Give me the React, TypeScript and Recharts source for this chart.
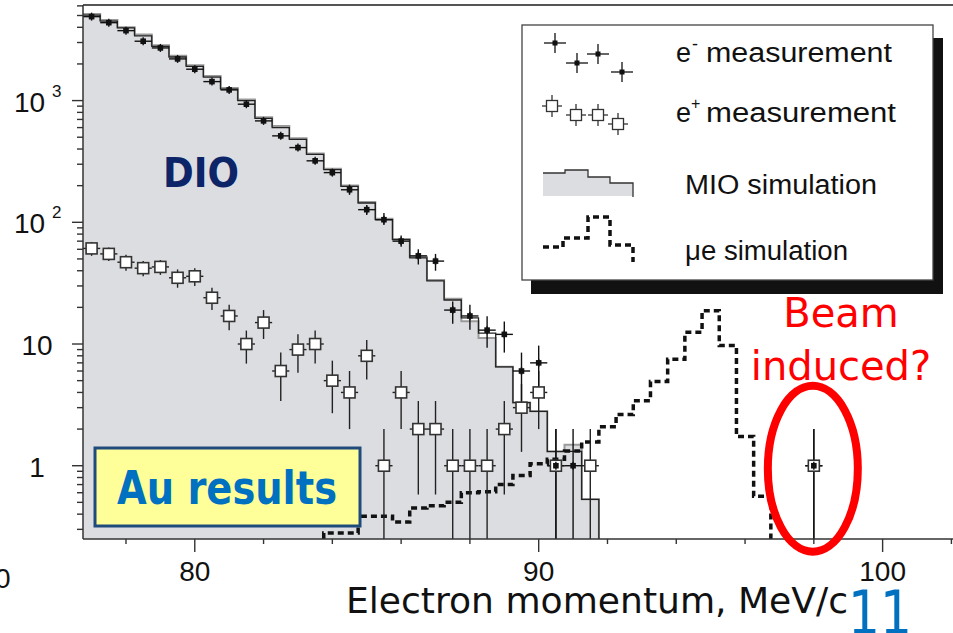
import React from "react";
import {
  ComposedChart,
  Area,
  Line,
  Scatter,
  XAxis,
  YAxis,
  ErrorBar,
  ReferenceDot,
  ReferenceLine,
} from "recharts";

// momentum bins are 0.5 MeV/c wide
const HALF_BIN = 0.25;
const Y_FLOOR = 0.25;
const Y_TOP = 6100;

const binCenters = [
  77, 77.5, 78, 78.5, 79, 79.5, 80, 80.5, 81, 81.5, 82, 82.5, 83, 83.5, 84,
  84.5, 85, 85.5, 86, 86.5, 87, 87.5, 88, 88.5, 89, 89.5, 90, 90.5, 91, 91.5,
];
// MIO simulation (filled histogram)
const mioSim = [
  5150, 4600, 4000, 3490, 2850, 2330, 1950, 1590, 1270, 1020, 730, 618, 490,
  368, 276, 201, 147, 107, 73, 52, 33.5, 23.5, 15.4, 11.2, 6.5, 3.3, 2.8, 1.3,
  1.49, 0.53,
];
// dark outline histogram drawn over the fill
const mioOutline = [
  5040, 4500, 3960, 3400, 2790, 2280, 1910, 1560, 1240, 1000, 715, 600, 480,
  361, 271, 197, 144, 105, 72, 51, 33, 23, 16.4, 12.3, 6.5, 3.3, 2.8, 1.31,
  1.31, 0.53,
];

// mu -> e conversion simulation
const mueCenters = [
  84, 84.5, 85, 85.5, 86, 86.5, 87, 87.5, 88, 88.5, 89, 89.5, 90, 90.5, 91,
  91.5, 92, 92.5, 93, 93.5, 94, 94.5, 95, 95.5, 96, 96.5,
];
const mueSim = [
  0.28, 0.28, 0.385, 0.385, 0.345, 0.45, 0.47, 0.5, 0.6, 0.61, 0.7, 0.83, 1.04,
  1.13, 1.32, 1.57, 2.09, 2.64, 3.42, 4.93, 7.5, 12.5, 18.8, 9.7, 1.74, 0.56,
];

// e- measurement
const eMinusP = [
  77, 77.5, 78, 78.5, 79, 79.5, 80, 80.5, 81, 81.5, 82, 82.5, 83, 83.5, 84,
  84.5, 85, 85.5, 86, 86.5, 87, 87.5, 88, 88.5, 89, 89.5, 90, 90.5, 91, 98,
];
const eMinusN = [
  4894, 4366, 3755, 3074, 2708, 2200, 1810, 1432, 1224, 934, 681, 513, 411,
  320, 256, 185, 127, 105, 70, 53, 48, 19, 17, 13, 12, 6, 7, 1, 1, 1,
];
const eMinusLo = [
  4824, 4300, 3694, 3019, 2656, 2153, 1767, 1394, 1189, 903, 655, 490, 391,
  302, 240, 168, 115, 95, 63, 45, 40, 14.7, 13.1, 9.3, 8.5, 3.4, 4.5, 0.25,
  0.25, 0.25,
];
const eMinusHi = [
  4964, 4432, 3816, 3129, 2760, 2247, 1853, 1470, 1259, 965, 707, 536, 431,
  338, 272, 204, 139, 119, 78, 60, 55, 22.4, 21, 16.9, 15.3, 8.5, 9.7, 2, 2, 2,
];

// e+ measurement
const ePlusP = [
  77, 77.5, 78, 78.5, 79, 79.5, 80, 80.5, 81, 81.5, 82, 82.5, 83, 83.5, 84,
  84.5, 85, 85.5, 86, 86.5, 87, 87.5, 88, 88.5, 89, 89.5, 90, 90.5, 91.5, 98,
];
const ePlusN = [
  61, 55, 47, 42, 43, 35, 36, 24, 17, 10, 15, 6, 9, 10, 5, 4, 8, 1, 4, 2, 2, 1,
  1, 1, 2, 3, 4, 1, 1, 1,
];
const ePlusLo = [
  53, 48, 40, 36, 37, 29, 30, 19, 13, 6.9, 11, 3.4, 5.8, 6.9, 2.7, 2, 5.1, 0.25,
  2, 0.58, 0.58, 0.25, 0.25, 0.25, 0.58, 1.3, 2, 0.25, 0.25, 0.25,
];
const ePlusHi = [
  69, 62, 54, 48, 49, 41, 42, 29, 21, 12.9, 19, 8.5, 12, 12.9, 7.3, 6, 10.8, 2,
  6, 3.4, 3.4, 2, 2, 2, 3.4, 4.7, 6, 2, 2, 2,
];

const xTicks = [78, 80, 82, 84, 86, 88, 90, 92, 94, 96, 98, 100, 102];
const xLabels = [80, 90, 100];
const yTicks = [
  0.3, 0.4, 0.5, 0.6, 0.7, 0.8, 0.9, 1, 2, 3, 4, 5, 6, 7, 8, 9, 10, 20, 30, 40,
  50, 60, 70, 80, 90, 100, 200, 300, 400, 500, 600, 700, 800, 900, 1000, 2000,
  3000, 4000, 5000, 6000,
];
const yLabels: Record<number, [string, string]> = {
  1: ["1", ""],
  10: ["10", ""],
  100: ["10", "2"],
  1000: ["10", "3"],
};

// histogram rows: one point per left bin edge, closed at the last right edge
function histRows(centers: number[], values: number[], openFromFloor = false) {
  const rows = centers.map((c, i) => ({ x: c - HALF_BIN, y: values[i] }));
  if (openFromFloor) rows.unshift({ x: centers[0] - HALF_BIN, y: Y_FLOOR });
  rows.push({ x: centers[centers.length - 1] + HALF_BIN, y: Y_FLOOR });
  return rows;
}

function pointRows(p: number[], n: number[], lo: number[], hi: number[]) {
  return p.map((x, i) => ({
    x,
    y: n[i],
    ex: HALF_BIN,
    ey: [n[i] - lo[i], hi[i] - n[i]],
  }));
}

const mioRows = histRows(binCenters, mioSim);
const mioOutlineRows = histRows(binCenters, mioOutline);
const mueRows = histRows(mueCenters, mueSim, true);
const eMinusRows = pointRows(eMinusP, eMinusN, eMinusLo, eMinusHi);
const ePlusRows = pointRows(ePlusP, ePlusN, ePlusLo, ePlusHi);

const AXIS_FONT = "'Liberation Sans', Arial, sans-serif";
const SLIDE_FONT = "'DejaVu Sans', Verdana, sans-serif";
const FILL_GRAY = "#dcdde0";

function renderXTick(props: any) {
  const { x, y, payload } = props;
  const v = payload.value;
  const major = xLabels.includes(v);
  return (
    <g>
      <line x1={x} x2={x} y1={y} y2={y + (major ? 13 : 5)} stroke="#333" strokeWidth={1.4} />
      {major && (
        <text x={x} y={y + 42} textAnchor="middle" fontFamily={AXIS_FONT} fontSize={28} fill="#111">
          {v}
        </text>
      )}
    </g>
  );
}

function renderYTick(props: any) {
  const { x, y, payload } = props;
  const label = yLabels[payload.value];
  return (
    <g>
      <line x1={x} x2={x - (label ? 11 : 6)} y1={y} y2={y} stroke="#333" strokeWidth={1.4} />
      {label && label[1] === "" && (
        <text x={x - 46} y={y + 11} textAnchor="middle" fontFamily={AXIS_FONT} fontSize={28} fill="#111">
          {label[0]}
        </text>
      )}
      {label && label[1] !== "" && (
        <g fontFamily={AXIS_FONT} fill="#111">
          <text x={x - 69} y={y + 11} fontSize={28}>
            {label[0]}
          </text>
          <text x={x - 31} y={y - 4} fontSize={17}>
            {label[1]}
          </text>
        </g>
      )}
    </g>
  );
}

const eMinusShape = (p: any) => (
  <g>
    <line x1={p.cx} x2={p.cx} y1={p.cy - 4} y2={p.cy + 4} stroke="#111" strokeWidth={1.4} />
    <rect x={p.cx - 2.8} y={p.cy - 2.8} width={5.6} height={5.6} fill="#111" />
  </g>
);

const ePlusShape = (p: any) => (
  <rect x={p.cx - 5.5} y={p.cy - 5.5} width={11} height={11} fill="#fff" stroke="#333" strokeWidth={1.6} />
);

const beamRing = (p: any) => (
  <ellipse cx={p.cx - 1} cy={p.cy + 3} rx={45} ry={83} fill="none" stroke="#ff0000" strokeWidth={8} />
);

function LegendBox() {
  const crosses = [
    [555, 43],
    [577, 63],
    [598, 54],
    [622, 72],
  ];
  const boxes = [
    [552, 106],
    [576, 115],
    [598, 115],
    [618, 124],
  ];
  return (
    <g>
      <rect x={531} y={38} width={412} height={256} fill="#111" />
      <rect x={522} y={25} width={411} height={255} fill="#fff" stroke="#444" strokeWidth={1.3} />
      {crosses.map(([cx, cy], i) => (
        <g key={i} stroke="#111" strokeWidth={1.3}>
          <line x1={cx - 11} x2={cx + 11} y1={cy} y2={cy} />
          <line x1={cx} x2={cx} y1={cy - 10} y2={cy + 10} />
          <rect x={cx - 2.5} y={cy - 2.5} width={5} height={5} fill="#111" stroke="none" />
        </g>
      ))}
      {boxes.map(([cx, cy], i) => (
        <g key={i} stroke="#333" strokeWidth={1.3}>
          <line x1={cx - 10} x2={cx + 10} y1={cy} y2={cy} />
          <line x1={cx} x2={cx} y1={cy - 11} y2={cy + 11} />
          <rect x={cx - 5.5} y={cy - 5.5} width={11} height={11} fill="#fff" />
        </g>
      ))}
      <polygon
        points="543,196 543,173 565,173 565,170 588,170 588,177 610,177 610,183 633,183 633,196"
        fill={FILL_GRAY}
      />
      <polyline
        points="543,173 565,173 565,170 588,170 588,177 610,177 610,183 633,183 633,197"
        fill="none"
        stroke="#333"
        strokeWidth={1.3}
      />
      <polyline
        points="543,247 563,247 563,238 588,238 588,217 610,217 610,245 633,245 633,262"
        fill="none"
        stroke="#111"
        strokeWidth={3.5}
        strokeDasharray="6 4"
      />
      <g fontFamily={AXIS_FONT} fill="#111">
        <text x={676} y={62} fontSize={27}>e</text>
        <text x={692} y={50} fontSize={18}>-</text>
        <text x={706} y={62} fontSize={27} textLength={186} lengthAdjust="spacingAndGlyphs">
          measurement
        </text>
        <text x={676} y={122} fontSize={27}>e</text>
        <text x={691} y={109} fontSize={16}>+</text>
        <text x={706} y={122} fontSize={27} textLength={190} lengthAdjust="spacingAndGlyphs">
          measurement
        </text>
        <text x={685} y={194} fontSize={27} textLength={192} lengthAdjust="spacingAndGlyphs">
          MIO simulation
        </text>
        <text x={685} y={260} fontSize={27} textLength={163} lengthAdjust="spacingAndGlyphs">
          μe simulation
        </text>
      </g>
    </g>
  );
}

function Annotations() {
  return (
    <svg
      width={953}
      height={633}
      style={{ position: "absolute", left: 0, top: 0, pointerEvents: "none" }}
    >
      <LegendBox />
      <text x={163} y={187} fontFamily={SLIDE_FONT} fontWeight="bold" fontSize={41} fill="#0c2468" textLength={76} lengthAdjust="spacingAndGlyphs">
        DIO
      </text>
      <rect x={95} y={448} width={265} height={78} fill="#ffff99" stroke="#1f4a7c" strokeWidth={3} />
      <text x={117} y={504} fontFamily={SLIDE_FONT} fontWeight="bold" fontSize={47} fill="#0070c0" textLength={220} lengthAdjust="spacingAndGlyphs">
        Au results
      </text>
      <g fontFamily={SLIDE_FONT} fontSize={40} fill="#ff0000" textAnchor="middle">
        <text x={841} y={327}>Beam</text>
        <text x={841} y={380}>induced?</text>
      </g>
      <text x={346} y={613} fontFamily={SLIDE_FONT} fontSize={35} fill="#111" textLength={502} lengthAdjust="spacingAndGlyphs">
        Electron momentum, MeV/c
      </text>
      <text x={848} y={634} fontFamily={SLIDE_FONT} fontSize={60} fill="#0070c0" textLength={64} lengthAdjust="spacingAndGlyphs">
        11
      </text>
      <text x={-5} y={588} fontFamily={AXIS_FONT} fontSize={28} fill="#111">
        0
      </text>
    </svg>
  );
}

export default function App() {
  return (
    <div
      style={{
        position: "absolute",
        left: 0,
        top: 0,
        width: 953,
        height: 633,
        overflow: "hidden",
        background: "#fff",
      }}
    >
      <ComposedChart width={960} height={633} margin={{ top: 5, right: 0, bottom: 0, left: 0 }}>
        <XAxis
          type="number"
          dataKey="x"
          domain={[76.75, 102.25]}
          allowDataOverflow
          ticks={xTicks}
          interval={0}
          tickSize={0}
          tickMargin={0}
          tickLine={false}
          tick={renderXTick}
          height={94}
          axisLine={{ stroke: "#333", strokeWidth: 1.5 }}
        />
        <YAxis
          type="number"
          scale="log"
          domain={[Y_FLOOR, Y_TOP]}
          allowDataOverflow
          ticks={yTicks}
          interval={0}
          tickSize={0}
          tickMargin={0}
          tickLine={false}
          tick={renderYTick}
          width={83}
          axisLine={{ stroke: "#333", strokeWidth: 1.5 }}
        />
        <ReferenceLine y={Y_TOP} stroke="#555" strokeWidth={2} />
        <Area
          data={mioRows}
          dataKey="y"
          type="stepAfter"
          fill={FILL_GRAY}
          fillOpacity={1}
          stroke="#9a9a9a"
          strokeWidth={2}
          isAnimationActive={false}
        />
        <Line
          data={mioOutlineRows}
          dataKey="y"
          type="stepAfter"
          stroke="#222"
          strokeWidth={1.3}
          dot={false}
          isAnimationActive={false}
        />
        <Line
          data={mueRows}
          dataKey="y"
          type="stepAfter"
          stroke="#111"
          strokeWidth={3.5}
          strokeDasharray="6 4"
          dot={false}
          isAnimationActive={false}
        />
        <Scatter data={ePlusRows} dataKey="y" shape={ePlusShape} isAnimationActive={false}>
          <ErrorBar dataKey="ey" direction="y" width={0} stroke="#222" strokeWidth={1.4} />
          <ErrorBar dataKey="ex" direction="x" width={0} stroke="#222" strokeWidth={1.4} />
        </Scatter>
        <Scatter data={eMinusRows} dataKey="y" shape={eMinusShape} isAnimationActive={false}>
          <ErrorBar dataKey="ey" direction="y" width={0} stroke="#111" strokeWidth={1.4} />
          <ErrorBar dataKey="ex" direction="x" width={0} stroke="#111" strokeWidth={1.4} />
        </Scatter>
        <ReferenceDot x={98} y={1} shape={beamRing} />
      </ComposedChart>
      <Annotations />
    </div>
  );
}
